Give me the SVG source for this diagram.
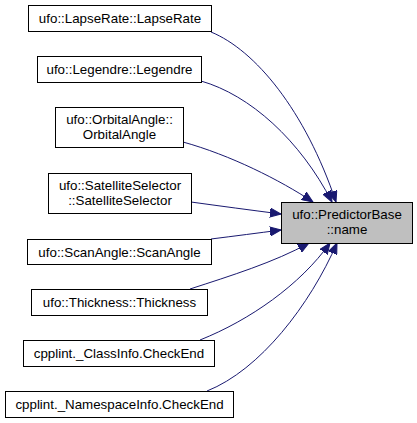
<svg xmlns="http://www.w3.org/2000/svg" width="417" height="423" viewBox="0 0 417 423">
<style>
.n{fill:#ffffff;stroke:#000000;stroke-width:1}
.t{fill:#bfbfbf;stroke:#000000;stroke-width:1}
text{font-family:"Liberation Sans",Arial,sans-serif;font-size:13.33px;fill:#000000;text-anchor:middle}
.e{fill:none;stroke:#191970;stroke-width:1}
</style>
<defs>
<marker id="a" markerWidth="12" markerHeight="10" refX="11" refY="5" orient="auto" markerUnits="userSpaceOnUse">
<path d="M0,0.5 L11,5 L0,9.5 Z" fill="#191970" stroke="#191970"/>
</marker>
</defs>
<rect width="417" height="423" fill="#ffffff"/>
<g id="edges">
<path class="e" marker-end="url(#a)" d="M211,32 C255,50 305,110 336,202"/>
<path class="e" marker-end="url(#a)" d="M201,81 C250,95 300,140 332,202"/>
<path class="e" marker-end="url(#a)" d="M183,142 C230,155 280,180 313,202"/>
<path class="e" marker-end="url(#a)" d="M191,202 C220,206 250,210 281,214"/>
<path class="e" marker-end="url(#a)" d="M211,239 C235,236 258,233 281,230"/>
<path class="e" marker-end="url(#a)" d="M190,289 C230,276 275,262 309,243"/>
<path class="e" marker-end="url(#a)" d="M200,340 C250,320 300,285 330,243"/>
<path class="e" marker-end="url(#a)" d="M207,391 C260,370 310,305 337,243"/>
</g>
<g id="target">
<rect class="t" x="281.5" y="202.5" width="131" height="41"/>
<text x="347" y="219">ufo::PredictorBase</text>
<text x="347" y="234">::name</text>
</g>
<g id="lapserate">
<rect class="n" x="28.5" y="5.5" width="183" height="26"/>
<text x="120" y="23">ufo::LapseRate::LapseRate</text>
</g>
<g id="legendre">
<rect class="n" x="37.5" y="56.5" width="164" height="26"/>
<text x="119.5" y="74">ufo::Legendre::Legendre</text>
</g>
<g id="orbitalangle">
<rect class="n" x="55.5" y="107.5" width="128" height="40"/>
<text x="119.5" y="124">ufo::OrbitalAngle::</text>
<text x="119.5" y="139">OrbitalAngle</text>
</g>
<g id="satelliteselector">
<rect class="n" x="48.5" y="173.5" width="143" height="40"/>
<text x="120" y="190">ufo::SatelliteSelector</text>
<text x="120" y="205">::SatelliteSelector</text>
</g>
<g id="scanangle">
<rect class="n" x="27.5" y="239.5" width="184" height="25"/>
<text x="119.5" y="256.5">ufo::ScanAngle::ScanAngle</text>
</g>
<g id="thickness">
<rect class="n" x="31.5" y="289.5" width="176" height="26"/>
<text x="119.5" y="307">ufo::Thickness::Thickness</text>
</g>
<g id="classinfo">
<rect class="n" x="23.5" y="340.5" width="191" height="26"/>
<text x="119" y="358">cpplint._ClassInfo.CheckEnd</text>
</g>
<g id="namespaceinfo">
<rect class="n" x="5.5" y="391.5" width="228" height="26"/>
<text x="119.5" y="409">cpplint._NamespaceInfo.CheckEnd</text>
</g>
</svg>
